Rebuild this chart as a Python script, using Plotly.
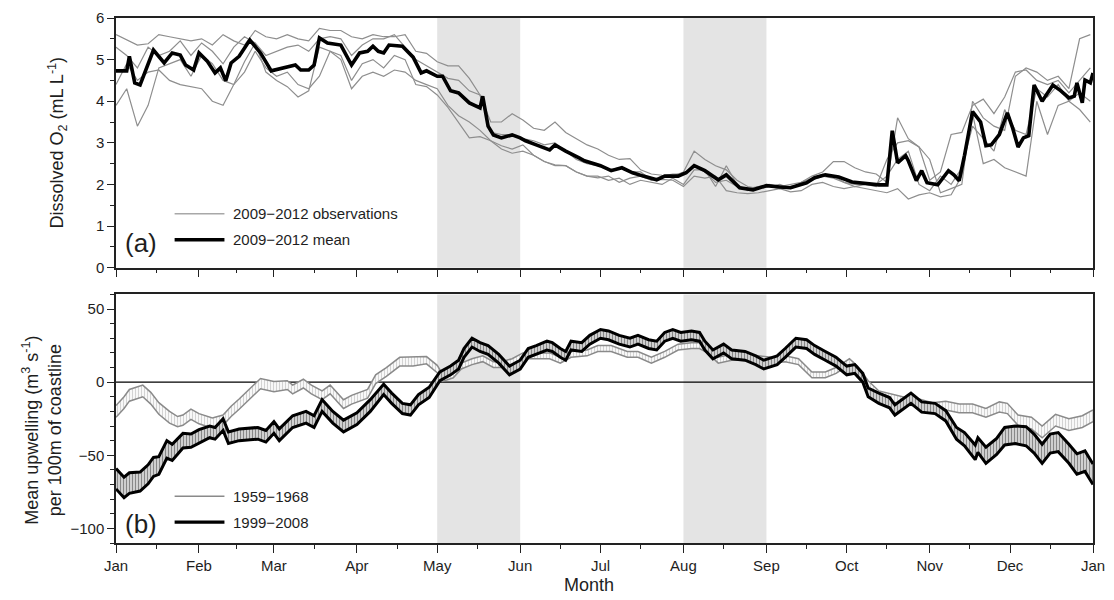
import plotly.graph_objects as go
from plotly.subplots import make_subplots

# ---------------- Panel (a): dissolved oxygen ----------------
obs_days = [0, 4, 8, 12, 16, 20, 24, 28, 32, 36,
            40, 44, 48, 52, 56, 60, 64, 68, 72, 76,
            80, 84, 88, 92, 96, 100, 104, 108, 112, 116,
            120, 124, 128, 132, 136, 140, 144, 148, 152, 156,
            160, 164, 168, 172, 176, 180, 184, 188, 192, 196,
            200, 204, 208, 212, 216, 220, 224, 228, 232, 236,
            240, 244, 248, 252, 256, 260, 264, 268, 272, 276,
            280, 284, 288, 292, 296, 300, 304, 308, 312, 316,
            320, 324, 328, 332, 336, 340, 344, 348, 352, 356,
            360, 364]

obs_2009 = [5.6, 5.47, 5.35, 5.38, 5.6, 5.55, 5.5, 5.45, 5.5, 5.35,
            5.6, 5.45, 5.35, 5.7, 5.55, 5.5, 5.6, 5.5, 5.45, 5.75,
            5.7, 5.7, 5.55, 5.5, 5.6, 5.55, 5.55, 5.6, 5.2, 5.15,
            4.95, 4.85, 4.85, 4.55, 4.15, 3.5, 3.5, 3.7, 3.55, 3.35,
            3.3, 3.5, 3.25, 3.1, 2.95, 2.85, 2.7, 2.6, 2.62, 2.35,
            2.25, 2.22, 2.2, 2.3, 2.8, 2.6, 2.45, 2.35, 2.1, 1.95,
            1.9, 1.95, 2.0, 1.9, 2.05, 2.2, 2.3, 2.55, 2.55, 2.4,
            2.3, 2.25, 2.05, 3.6, 3.1, 2.9, 2.6, 1.8, 1.9, 2.0,
            4.0, 3.6, 3.4, 3.3, 4.6, 4.8, 4.7, 4.5, 4.6, 4.3,
            5.5, 5.6]
obs_2010 = [3.9, 4.3, 3.4, 3.9, 4.8, 4.9, 5.0, 4.6, 5.1, 4.9,
            4.5, 4.4, 4.7, 5.2, 4.8, 4.6, 4.7, 4.4, 4.3, 4.6,
            5.2, 5.1, 4.5, 4.9, 5.0, 4.8, 5.1, 5.0, 4.4, 4.35,
            4.15, 3.85, 3.5, 3.12, 3.15, 3.05, 2.93, 2.85, 2.95, 2.7,
            2.55, 2.47, 2.45, 2.3, 2.2, 2.16, 2.2, 2.05, 2.15, 2.2,
            2.1, 2.12, 2.1, 1.95, 2.2, 2.15, 2.2, 1.85, 1.8, 1.78,
            1.8, 1.85, 1.9, 1.82, 1.85, 2.0, 2.05, 1.95, 1.9, 1.95,
            1.9, 1.85, 1.8, 1.9, 1.65, 1.75, 1.8, 1.7, 1.75, 2.2,
            3.7, 2.5, 2.6, 2.4, 2.3, 2.2, 4.0, 3.2, 3.9, 4.0,
            3.8, 3.5]
obs_2011 = [5.3, 5.1, 4.8, 5.3, 5.1, 5.2, 5.45, 5.1, 5.4, 5.2,
            4.9, 5.3, 5.55, 5.4, 5.1, 5.2, 5.3, 5.35, 5.2, 5.5,
            5.55, 5.5, 5.1, 5.35, 5.5, 5.5, 5.6, 5.3, 5.0, 4.85,
            4.7, 4.55, 4.5, 4.25, 4.15, 3.25, 3.2, 3.2, 3.1, 3.05,
            2.95, 3.0, 2.8, 2.6, 2.5, 2.45, 2.35, 2.4, 2.3, 2.3,
            2.1, 2.2, 2.25, 2.25, 2.45, 2.3, 2.05, 2.1, 1.95, 1.9,
            1.95, 2.0, 1.95, 2.0, 2.05, 2.15, 2.25, 2.2, 2.05, 2.0,
            2.0, 1.95, 2.6, 3.0, 3.05, 2.9, 2.1, 2.3, 3.2, 3.25,
            3.9, 4.05, 3.7, 4.1, 4.7, 4.75, 4.5, 4.4, 4.5, 4.2,
            4.5, 4.8]
obs_2012 = [4.4, 4.9, 4.5, 4.7, 4.75, 4.5, 4.4, 4.35, 4.3, 4.0,
            3.9, 4.4, 4.95, 5.4, 4.7, 4.5, 4.35, 4.1, 4.25, 5.3,
            5.2, 5.0, 4.3, 4.6, 4.7, 4.6, 4.75, 4.7, 4.5, 4.4,
            4.3, 3.9, 3.65, 3.5, 3.3, 3.05, 2.85, 2.75, 2.8, 2.7,
            2.55, 2.45, 2.45, 2.3, 2.2, 2.2, 2.1, 2.15, 2.0, 2.1,
            2.05, 2.0, 2.15, 2.0, 2.35, 2.35, 1.95, 2.45, 2.0, 1.85,
            1.95, 1.95, 1.9, 1.95, 2.0, 2.1, 2.2, 2.15, 2.05, 1.95,
            2.0, 2.0, 2.2, 2.6, 2.8, 2.0, 1.85, 2.2, 2.0, 2.4,
            3.4, 3.1, 2.8, 3.8, 3.3, 3.2, 4.3, 4.1, 4.4, 4.0,
            4.2, 4.0]

mean_days = [0, 4, 5, 7, 9, 11, 14, 18, 21, 24,
             26, 29, 31, 34, 37, 39, 41, 43, 46, 50,
             54, 58, 62, 67, 69, 72, 74, 76, 79, 84,
             88, 91, 94, 96, 98, 100, 102, 107, 111, 114,
             116, 120, 122, 125, 128, 132, 136, 137, 139, 141,
             144, 148, 151, 153, 157, 162, 164, 168, 173, 175,
             181, 185, 189, 193, 197, 202, 205, 210, 213, 216,
             220, 225, 228, 233, 238, 243, 248, 252, 258, 261,
             265, 270, 275, 280, 285, 288, 290, 292, 295, 296,
             299, 301, 303, 307, 311, 313, 315, 317, 320, 323,
             325, 327, 330, 333, 335, 337, 339, 341, 343, 346,
             350, 353, 356, 358, 359, 361, 362, 364, 365]
mean_o2 = [4.73, 4.73, 5.08, 4.44, 4.39, 4.73, 5.23, 4.92, 5.16, 5.11,
           4.87, 4.75, 5.16, 4.97, 4.68, 4.8, 4.49, 4.92, 5.08, 5.47,
           5.16, 4.73, 4.8, 4.87, 4.75, 4.75, 4.87, 5.52, 5.4, 5.35,
           4.87, 5.16, 5.2, 5.32, 5.2, 5.16, 5.35, 5.32, 5.06, 4.68,
           4.73, 4.6, 4.6, 4.25, 4.2, 3.96, 3.84, 4.12, 3.4, 3.19,
           3.12, 3.19, 3.12, 3.05, 2.95, 2.83, 2.95, 2.8, 2.64, 2.57,
           2.45, 2.33, 2.4, 2.28, 2.2, 2.11, 2.2, 2.2, 2.28, 2.45,
           2.33, 2.11, 2.23, 1.92, 1.87, 1.97, 1.94, 1.92, 2.04, 2.16,
           2.23, 2.18, 2.06, 2.02, 1.99, 1.99, 3.29, 2.52, 2.69, 2.57,
           2.09, 2.33, 2.04, 1.99, 2.33, 2.23, 2.09, 2.7, 3.75, 3.5,
           2.93, 2.95, 3.2, 3.72, 3.35, 2.9, 3.12, 3.17, 4.39, 4.0,
           4.39, 4.25, 4.08, 4.12, 4.44, 3.96, 4.51, 4.44, 4.68]

# ---------------- Panel (b): upwelling ----------------
up_recent_days = [0, 3, 5, 9, 12, 14, 16, 19, 21, 25,
                  28, 31, 35, 37, 40, 42, 46, 53, 56, 59,
                  61, 66, 71, 74, 77, 81, 85, 90, 95, 100,
                  103, 107, 110, 113, 117, 121, 125, 128, 130, 133,
                  136, 139, 143, 147, 151, 154, 157, 161, 163, 166,
                  168, 170, 174, 177, 181, 184, 188, 192, 195, 199,
                  202, 205, 208, 211, 215, 218, 220, 223, 227, 230,
                  235, 239, 242, 247, 250, 254, 258, 261, 265, 269,
                  273, 276, 279, 281, 285, 289, 291, 297, 301, 306,
                  310, 314, 317, 321, 322, 325, 329, 332, 336, 340,
                  343, 346, 349, 352, 356, 359, 362, 365]
up_recent = [-66, -72, -69, -68, -63, -58, -57, -46, -48, -40,
             -40, -37, -34, -35, -29, -38, -36, -35, -37, -31,
             -36, -27, -24, -27, -16, -24, -30, -25, -16, -5,
             -11, -18, -19, -12, -7, 4, 8, 12, 20, 27,
             24, 22, 16, 8, 12, 20, 22, 25, 24, 20,
             18, 25, 24, 29, 33, 32, 29, 27, 29, 26,
             25, 31, 33, 31, 32, 31, 25, 19, 23, 19,
             18, 15, 12, 15, 20, 27, 26, 22, 18, 14,
             8, 9, 3, -7, -11, -14, -19, -11, -17, -18,
             -23, -35, -39, -48, -43, -50, -44, -37, -36, -37,
             -42, -49, -42, -41, -49, -56, -54, -63]
up_recent_err = [7, 7, 7, 6.5, 6.5, 6.5, 6, 6, 5.5, 5,
                 4.5, 4.5, 4, 4, 4, 4, 4, 4, 4, 4,
                 4, 4, 4, 4, 4, 4, 4, 4, 4, 3.5,
                 3.5, 3.5, 3.5, 3.5, 3.5, 3, 3, 3, 3, 3,
                 3, 3, 3, 3, 3, 3, 3, 3, 3, 3,
                 3, 3, 3, 3, 3, 3, 3, 3, 3, 3,
                 3, 3, 3, 3, 3, 3, 3, 3, 3, 3,
                 3, 3, 3, 3, 3, 3, 3, 3, 3, 3,
                 3, 3, 3, 3, 3.5, 3.5, 3.5, 3.5, 3.5, 3.5,
                 3.5, 4, 4.5, 5, 5, 5.5, 5.5, 6, 6, 6.5,
                 6.5, 6.5, 6.5, 6.5, 6.5, 7, 7, 7]

up_past_days = [0, 3, 5, 8, 10, 13, 16, 20, 23, 25,
                28, 31, 36, 40, 43, 46, 50, 54, 59, 64,
                66, 70, 73, 77, 80, 85, 88, 94, 97, 101,
                106, 111, 116, 120, 122, 126, 129, 133, 137, 141,
                144, 148, 152, 157, 162, 166, 170, 176, 180, 185,
                191, 195, 200, 205, 210, 215, 218, 221, 225, 230,
                235, 240, 245, 250, 255, 260, 265, 269, 274, 277,
                281, 285, 290, 295, 300, 305, 310, 315, 320, 325,
                330, 333, 337, 342, 346, 351, 356, 361, 365]
up_past = [-20, -14, -9, -7, -6, -11, -18, -24, -27, -26,
           -22, -25, -28, -26, -20, -15, -8, -1, -3, -2,
           -5, -1, -5, -9, -5, -15, -12, -8, 2, 7,
           14, 14, 15, 9, 3, 5, 11, 14, 16, 12,
           12, 14, 18, 18, 18, 15, 19, 20, 23, 23,
           19, 19, 15, 19, 24, 25, 25, 22, 15, 17,
           17, 16, 15, 16, 14, 5, 5, 8, 14, 9,
           -1, -8, -11, -13, -14, -17, -16, -18, -18, -21,
           -17, -18, -26, -28, -34, -26, -29, -27, -23]
up_past_err = [4, 4, 4, 4, 4, 4, 4, 4, 3.5, 3.5,
               3.5, 3.5, 3.5, 3.5, 3.5, 3.5, 3.5, 3.5, 3.5, 3,
               3, 3, 3, 3, 3, 3, 3, 3, 3, 3,
               3, 3, 2.5, 2.5, 2.5, 2, 2, 2, 2, 2,
               2, 2, 2, 2, 2, 2, 2, 2, 2, 2,
               2, 2, 2, 2, 2, 2, 2, 2, 2, 2,
               2, 2, 2, 2, 2, 2, 2, 2, 2, 2,
               2, 2, 2.5, 2.5, 2.5, 3, 3, 3, 3, 3,
               3.5, 3.5, 3.5, 4, 4, 4, 4, 4, 4]

# ---------------- Axis ticks ----------------
month_starts = [0, 31, 59, 90, 120, 151, 181, 212, 243, 273, 304, 334, 365]
month_labels = ["Jan", "Feb", "Mar", "Apr", "May", "Jun", "Jul",
                "Aug", "Sep", "Oct", "Nov", "Dec", "Jan"]
month_mids = [15, 45, 74, 105, 135, 166, 196, 227, 258, 288, 319, 349]
shaded_periods = [(120, 151), (212, 243)]

FONT = "Liberation Sans, Arial, sans-serif"
TXT = "#1e1e1e"

fig = make_subplots(rows=2, cols=1, shared_xaxes=False, vertical_spacing=0.0)

# observations
for series in [obs_2009, obs_2010, obs_2011, obs_2012]:
    fig.add_trace(go.Scatter(x=obs_days, y=series, mode="lines",
                             line=dict(color="#8e8e8e", width=1.2),
                             showlegend=False, hoverinfo="skip"),
                  row=1, col=1)
fig.add_trace(go.Scatter(x=mean_days, y=mean_o2, mode="lines",
                         line=dict(color="black", width=3.6),
                         showlegend=False), row=1, col=1)


def add_band(days, mean, err, line_color, line_width, hatch_color, solidity):
    lower = [m - e for m, e in zip(mean, err)]
    upper = [m + e for m, e in zip(mean, err)]
    fig.add_trace(go.Scatter(x=days, y=lower, mode="lines",
                             line=dict(color=line_color, width=line_width),
                             showlegend=False), row=2, col=1)
    fig.add_trace(go.Scatter(x=days, y=upper, mode="lines",
                             line=dict(color=line_color, width=line_width),
                             fill="tonexty", fillcolor="white",
                             fillpattern=dict(shape="|", fgcolor=hatch_color,
                                              bgcolor="white", size=3,
                                              solidity=solidity),
                             showlegend=False), row=2, col=1)


add_band(up_past_days, up_past, up_past_err, "#8a8a8a", 1.5, "#a8a8a8", 0.45)
add_band(up_recent_days, up_recent, up_recent_err, "black", 3.0, "#111111", 0.6)

shapes = []
for yref in ["y domain", "y2 domain"]:
    xref = "x" if yref == "y domain" else "x2"
    for a, b in shaded_periods:
        shapes.append(dict(type="rect", xref=xref, yref=yref, x0=a, x1=b,
                           y0=0, y1=1, fillcolor="#e4e4e4", line_width=0,
                           layer="below"))
shapes.append(dict(type="line", xref="x2", yref="y2", x0=0, x1=365, y0=0, y1=0,
                   line=dict(color="black", width=1.2), layer="below"))

annotations = []


def legend_entry(xref, yref, y, color, width, label):
    shapes.append(dict(type="line", xref=xref, yref=yref, x0=0.06, x1=0.111,
                       y0=y, y1=y, line=dict(color=color, width=width)))
    annotations.append(dict(xref=xref, yref=yref, x=0.118, y=y, text=label,
                            showarrow=False, xanchor="left", yanchor="middle",
                            font=dict(size=15, color=TXT, family=FONT)))


legend_entry("x domain", "y domain", 0.216, "#a8a8a8", 1.6,
             "2009\u22122012 observations")
legend_entry("x domain", "y domain", 0.112, "black", 3.6, "2009\u22122012 mean")
legend_entry("x2 domain", "y2 domain", 0.188, "#8a8a8a", 1.6, "1959\u22121968")
legend_entry("x2 domain", "y2 domain", 0.084, "black", 3.2, "1999\u22122008")


def label(xref, yref, x, y, text, size, angle=0):
    annotations.append(dict(xref=xref, yref=yref, x=x, y=y, text=text,
                            textangle=angle, showarrow=False,
                            xanchor="center", yanchor="middle",
                            font=dict(size=size, color=TXT, family=FONT)))


label("x domain", "y domain", 0.026, 0.1, "(a)", 26)
label("x2 domain", "y2 domain", 0.026, 0.075, "(b)", 26)
label("paper", "paper", -0.0603, 0.763,
      "Dissolved O<sub>2</sub> (mL L<sup>-1</sup>)", 18, -90)
label("paper", "paper", -0.0756, 0.214,
      "Mean upwelling (m<sup>3</sup> s<sup>-1</sup>)<br>per 100m of coastline",
      18, -90)
label("paper", "paper", 0.484, -0.0795, "Month", 18)

axis_common = dict(showline=True, linecolor="#222", linewidth=1.5, mirror=True,
                   showgrid=False, zeroline=False, ticks="outside",
                   tickcolor="#222", tickwidth=1.2,
                   tickfont=dict(size=15, color=TXT, family=FONT))

fig.update_xaxes(range=[0, 365], tickvals=month_starts, ticktext=month_labels,
                 ticklen=8,
                 minor=dict(tickvals=month_mids, ticklen=4, ticks="outside",
                            tickcolor="#222"),
                 **axis_common)
fig.update_xaxes(showticklabels=False, row=1, col=1)
fig.update_yaxes(**axis_common)
fig.update_yaxes(range=[0, 6], tickvals=[0, 1, 2, 3, 4, 5, 6], ticklen=7,
                 minor=dict(tickvals=[0.5, 1.5, 2.5, 3.5, 4.5, 5.5], ticklen=4,
                            ticks="outside", tickcolor="#222"),
                 row=1, col=1)
fig.update_yaxes(range=[-110, 60], tickvals=[-100, -50, 0, 50], ticklen=7,
                 minor=dict(tickvals=[-110, -90, -80, -70, -60, -40, -30, -20,
                                      -10, 10, 20, 30, 40, 60],
                            ticklen=4, ticks="outside", tickcolor="#222"),
                 row=2, col=1)

fig.update_layout(
    width=1114, height=600,
    margin=dict(l=116, r=17, t=9, b=57),
    paper_bgcolor="white", plot_bgcolor="white",
    font=dict(family=FONT, color=TXT),
    showlegend=False,
    shapes=shapes, annotations=annotations,
)
fig.layout.yaxis.domain = [0.5245, 1.0]
fig.layout.yaxis2.domain = [0.0, 0.4735]

fig.write_html("out.html")
